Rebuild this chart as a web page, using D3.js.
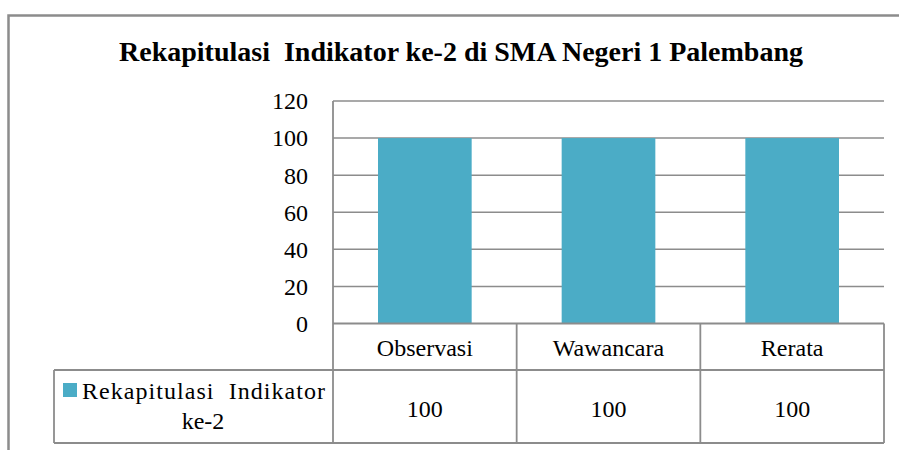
<!DOCTYPE html>
<html lang="en">
<head>
    <meta charset="UTF-8">
    <title>Rekapitulasi Indikator ke-2</title>
    <script src="https://d3js.org/d3.v7.min.js"></script>
    <style>
        body {
            margin: 0;
            background: #fff;
        }
        svg {
            display: block;
        }
    </style>
</head>
<body>
<svg width="899" height="450"></svg>

<script>
    // chart data
    const title = "Rekapitulasi\u00a0 Indikator ke-2 di SMA Negeri 1 Palembang";
    const seriesName = ["Rekapitulasi\u00a0 Indikator", "ke-2"];
    const categories = ["Observasi", "Wawancara", "Rerata"];
    const values = [100, 100, 100];
    const yTicks = [0, 20, 40, 60, 80, 100, 120];

    const barColor = "#4bacc6";
    const lineColor = "#8c8c8c";

    // pick the first serif face that is really installed
    function pickFont(list) {
        const ctx = document.createElement("canvas").getContext("2d");
        const sample = "Rekapitulasi Wawancara 0123456789";
        ctx.font = "40px monospace";
        const mono = ctx.measureText(sample).width;
        ctx.font = "40px sans-serif";
        const sans = ctx.measureText(sample).width;
        for (const f of list) {
            ctx.font = "40px '" + f + "', monospace";
            const w1 = ctx.measureText(sample).width;
            ctx.font = "40px '" + f + "', sans-serif";
            const w2 = ctx.measureText(sample).width;
            if (w1 !== mono || w2 !== sans) return "'" + f + "'";
        }
        return "serif";
    }
    const fontFamily = pickFont(["Liberation Serif", "Times New Roman", "Tinos", "DejaVu Serif", "Noto Serif", "FreeSerif"]);

    let svg = d3.select("svg").style("font-family", fontFamily);

    // layout
    const plotLeft = 333, plotRight = 884, plotTop = 101, zeroY = 323.5;
    const rowMid = 370, rowBottom = 443, legendLeft = 54;

    const y = d3.scaleLinear()
        .domain([0, 120])
        .range([zeroY, plotTop]);

    // bars sit inside each column
    const x = d3.scaleBand()
        .domain(categories)
        .range([plotLeft, plotRight])
        .paddingInner(0.49)
        .paddingOuter(0.245);

    // table columns
    const col = d3.scaleBand()
        .domain(categories)
        .range([plotLeft, plotRight])
        .padding(0);

    // outer frame
    svg.append("path")
        .attr("d", "M8.5,450 V15.5 H899")
        .attr("fill", "none")
        .attr("stroke", lineColor)
        .attr("stroke-width", 2.5);

    // title
    svg.append("text")
        .attr("x", 461)
        .attr("y", 61)
        .attr("text-anchor", "middle")
        .attr("font-size", "28px")
        .attr("font-weight", "bold")
        .text(title);

    // gridlines
    svg.append("g")
        .selectAll("line")
        .data(yTicks.filter(d => d > 0))
        .enter()
        .append("line")
        .attr("x1", plotLeft)
        .attr("x2", plotRight)
        .attr("y1", d => y(d))
        .attr("y2", d => y(d))
        .attr("stroke", lineColor)
        .attr("stroke-width", 1.5);

    // y labels
    svg.append("g")
        .selectAll("text")
        .data(yTicks)
        .enter()
        .append("text")
        .attr("x", 308)
        .attr("y", d => y(d))
        .attr("dy", "0.35em")
        .attr("text-anchor", "end")
        .attr("font-size", "24px")
        .text(d => d);

    // bars
    svg.append("g")
        .selectAll("rect")
        .data(values)
        .enter()
        .append("rect")
        .attr("x", (d, i) => x(categories[i]))
        .attr("y", d => y(d))
        .attr("width", x.bandwidth())
        .attr("height", d => zeroY - y(d))
        .attr("fill", barColor);

    // table lines
    let grid = svg.append("g")
        .attr("stroke", lineColor)
        .attr("stroke-width", 1.8)
        .attr("fill", "none");

    grid.append("line").attr("x1", plotLeft).attr("x2", plotRight).attr("y1", zeroY).attr("y2", zeroY);
    grid.append("line").attr("x1", legendLeft).attr("x2", plotRight).attr("y1", rowMid).attr("y2", rowMid);
    grid.append("line").attr("x1", legendLeft).attr("x2", plotRight).attr("y1", rowBottom).attr("y2", rowBottom);
    grid.append("line").attr("x1", legendLeft).attr("x2", legendLeft).attr("y1", rowMid).attr("y2", rowBottom);
    grid.append("line").attr("x1", plotLeft).attr("x2", plotLeft).attr("y1", plotTop).attr("y2", rowBottom);

    grid.selectAll(".colline")
        .data(categories)
        .enter()
        .append("line")
        .attr("class", "colline")
        .attr("x1", d => col(d) + col.bandwidth())
        .attr("x2", d => col(d) + col.bandwidth())
        .attr("y1", zeroY)
        .attr("y2", rowBottom);

    // category labels
    svg.append("g")
        .selectAll("text")
        .data(categories)
        .enter()
        .append("text")
        .attr("x", d => col(d) + col.bandwidth() / 2)
        .attr("y", 356)
        .attr("text-anchor", "middle")
        .attr("font-size", "24px")
        .text(d => d);

    // value labels
    svg.append("g")
        .selectAll("text")
        .data(values)
        .enter()
        .append("text")
        .attr("x", (d, i) => col(categories[i]) + col.bandwidth() / 2)
        .attr("y", 417)
        .attr("text-anchor", "middle")
        .attr("font-size", "24px")
        .text(d => d);

    // legend cell (justified text in the original)
    svg.append("rect")
        .attr("x", 63)
        .attr("y", 383)
        .attr("width", 14)
        .attr("height", 14)
        .attr("fill", barColor);

    svg.append("text")
        .attr("x", 82)
        .attr("y", 399)
        .attr("font-size", "24px")
        .attr("textLength", 243)
        .attr("lengthAdjust", "spacing")
        .text(seriesName[0]);

    svg.append("text")
        .attr("x", 203)
        .attr("y", 429)
        .attr("text-anchor", "middle")
        .attr("font-size", "24px")
        .text(seriesName[1]);
</script>
</body>
</html>
